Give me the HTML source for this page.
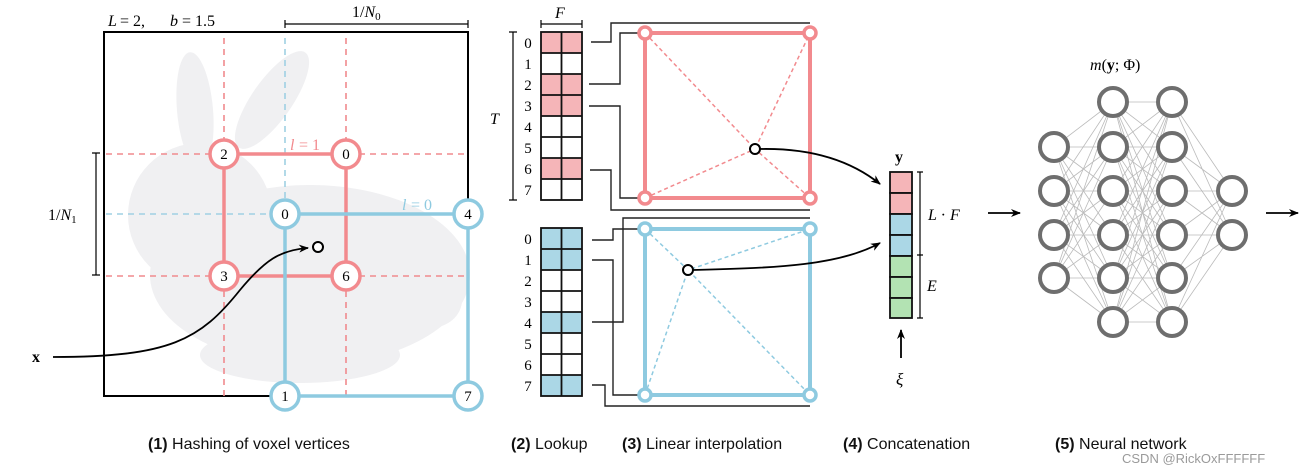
<!DOCTYPE html>
<html><head><meta charset="utf-8"><style>
html,body{margin:0;padding:0;background:#fff;}
svg{display:block;}
text{font-family:"Liberation Serif",serif;}
.cap{font-family:"Liberation Sans",sans-serif;font-size:16px;fill:#111;}
</style></head><body>
<svg width="1311" height="475" viewBox="0 0 1311 475" xmlns="http://www.w3.org/2000/svg">
<defs>
<marker id="ah" markerWidth="10" markerHeight="8" refX="9" refY="4" orient="auto" markerUnits="userSpaceOnUse"><path d="M0,0 L10,4 L0,8 L3,4 Z" fill="#000"/></marker>
</defs>
<!-- bunny -->
<g fill="#f0f0f2">
<ellipse cx="310" cy="275" rx="160" ry="90"/>
<ellipse cx="200" cy="215" rx="72" ry="72"/>
<ellipse cx="195" cy="110" rx="18" ry="58" transform="rotate(-5 195 110)"/>
<ellipse cx="272" cy="100" rx="20" ry="58" transform="rotate(35 272 100)"/>
<ellipse cx="430" cy="300" rx="32" ry="28"/>
<ellipse cx="300" cy="355" rx="100" ry="28"/>
</g>
<!-- left box -->
<rect x="104" y="32" width="364" height="364" fill="none" stroke="#000" stroke-width="2"/>
<text x="108" y="26" font-size="16" font-style="italic">L</text><text x="120" y="26" font-size="16">= 2,</text>
<text x="170" y="26" font-size="16" font-style="italic">b</text><text x="182" y="26" font-size="16">= 1.5</text>
<path d="M285,20 V28 M285,24 H468 M468,20 V28" stroke="#000" stroke-width="1.2" fill="none"/>
<text x="352" y="17" font-size="16">1/<tspan font-style="italic">N</tspan><tspan font-size="11" dy="3">0</tspan></text>
<path d="M92,153 H100 M96,153 V275 M92,275 H100" stroke="#000" stroke-width="1.2" fill="none"/>
<text x="48" y="220" font-size="16">1/<tspan font-style="italic">N</tspan><tspan font-size="11" dy="3">1</tspan></text>
<g stroke="#f08a8e" stroke-width="1.6" stroke-dasharray="6,5" fill="none">
<path d="M224,38 V396 M346,38 V396 M106,154 H465 M106,276 H465"/>
</g>
<g stroke="#9fd0e3" stroke-width="1.6" stroke-dasharray="6,5" fill="none">
<path d="M285,38 V214 M106,214 H285"/>
</g>
<rect x="224" y="154" width="122" height="122" fill="none" stroke="#f28a8e" stroke-width="3.5"/>
<rect x="285" y="214" width="183" height="182" fill="none" stroke="#8ecae0" stroke-width="3.5"/>
<text x="290" y="150" font-size="16" font-style="italic" fill="#f28a8e">l</text><text x="299" y="150" font-size="16" fill="#f28a8e">= 1</text>
<text x="402" y="210" font-size="16" font-style="italic" fill="#8ecae0">l</text><text x="411" y="210" font-size="16" fill="#8ecae0">= 0</text>
<g font-size="15" text-anchor="middle">
<g stroke="#f28a8e" stroke-width="3.5" fill="#fff">
<circle cx="224" cy="154" r="14"/><circle cx="346" cy="154" r="14"/><circle cx="224" cy="276" r="14"/><circle cx="346" cy="276" r="14"/>
</g>
<g stroke="#8ecae0" stroke-width="3.5" fill="#fff">
<circle cx="285" cy="214" r="14"/><circle cx="468" cy="214" r="14"/><circle cx="285" cy="396" r="14"/><circle cx="468" cy="396" r="14"/>
</g>
<text x="224" y="159">2</text><text x="346" y="159">0</text><text x="224" y="281">3</text><text x="346" y="281">6</text>
<text x="285" y="219">0</text><text x="468" y="219">4</text><text x="285" y="401">1</text><text x="468" y="401">7</text>
</g>
<circle cx="318" cy="247" r="5" fill="#fff" stroke="#000" stroke-width="2"/>
<path d="M53,357 C170,357 200,340 240,290 C265,260 280,250 308,248" fill="none" stroke="#000" stroke-width="1.8" marker-end="url(#ah)"/>
<text x="32" y="362" font-size="16" font-weight="bold">x</text>

<!-- tables -->
<text x="555" y="18" font-size="16" font-style="italic">F</text>
<path d="M541,20 V28 M541,24 H582 M582,20 V28" stroke="#000" stroke-width="1.2" fill="none"/>
<path d="M509,32 H517 M513,32 V200 M509,200 H517" stroke="#000" stroke-width="1.2" fill="none"/>
<text x="490" y="124" font-size="16" font-style="italic">T</text>
<g fill="#f5b5b8"><rect x="541" y="32" width="41" height="21"/><rect x="541" y="74" width="41" height="42"/><rect x="541" y="158" width="41" height="21"/></g>
<g fill="#abd7e6"><rect x="541" y="228" width="41" height="42"/><rect x="541" y="312" width="41" height="21"/><rect x="541" y="375" width="41" height="21"/></g>
<g stroke="#111" stroke-width="1.8" fill="none">
<rect x="541" y="32" width="41" height="168"/>
<path d="M561.5,32 V200 M541,53 H582 M541,74 H582 M541,95 H582 M541,116 H582 M541,137 H582 M541,158 H582 M541,179 H582"/>
<rect x="541" y="228" width="41" height="168"/>
<path d="M561.5,228 V396 M541,249 H582 M541,270 H582 M541,291 H582 M541,312 H582 M541,333 H582 M541,354 H582 M541,375 H582"/>
</g>
<g font-size="15" text-anchor="middle">
<text x="528" y="48">0</text><text x="528" y="69">1</text><text x="528" y="90">2</text><text x="528" y="111">3</text><text x="528" y="132">4</text><text x="528" y="153">5</text><text x="528" y="174">6</text><text x="528" y="195">7</text>
<text x="528" y="244">0</text><text x="528" y="265">1</text><text x="528" y="286">2</text><text x="528" y="307">3</text><text x="528" y="328">4</text><text x="528" y="349">5</text><text x="528" y="370">6</text><text x="528" y="391">7</text>
</g>
<g stroke="#222" stroke-width="1.4" fill="none">
<path d="M591,42 H611 V23 H810"/>
<path d="M589,84 H620 V33 H645"/>
<path d="M589,106 H620 V198 H645"/>
<path d="M590,170 H611 V210 H810"/>
<path d="M592,240 H613 V229 H645"/>
<path d="M592,260 H613 V395 H645"/>
<path d="M592,322 H623 V218 H810"/>
<path d="M592,385 H605 V406 H810"/>
</g>
<g stroke="#f28a8e" stroke-width="1.5" stroke-dasharray="4,3" fill="none"><path d="M645,33 L755,149 L810,33 M645,198 L755,149 L810,198"/></g>
<rect x="645" y="33" width="165" height="165" fill="none" stroke="#f28a8e" stroke-width="4"/>
<g stroke="#f28a8e" stroke-width="3.5" fill="#fff"><circle cx="645" cy="33" r="6"/><circle cx="810" cy="33" r="6"/><circle cx="645" cy="198" r="6"/><circle cx="810" cy="198" r="6"/></g>
<g stroke="#8ecae0" stroke-width="1.5" stroke-dasharray="4,3" fill="none"><path d="M645,229 L688,270 L810,229 M645,395 L688,270 L810,395"/></g>
<rect x="645" y="229" width="165" height="166" fill="none" stroke="#8ecae0" stroke-width="4"/>
<g stroke="#8ecae0" stroke-width="3.5" fill="#fff"><circle cx="645" cy="229" r="6"/><circle cx="810" cy="229" r="6"/><circle cx="645" cy="395" r="6"/><circle cx="810" cy="395" r="6"/></g>
<circle cx="755" cy="149" r="5" fill="#fff" stroke="#000" stroke-width="2"/>
<circle cx="688" cy="270" r="5" fill="#fff" stroke="#000" stroke-width="2"/>
<path d="M760,149 C810,148 850,160 880,184" fill="none" stroke="#000" stroke-width="1.8" marker-end="url(#ah)"/>
<path d="M693,270 C780,268 840,265 880,243" fill="none" stroke="#000" stroke-width="1.8" marker-end="url(#ah)"/>
<text x="895" y="162" font-size="16" font-weight="bold">y</text>
<g stroke="#111" stroke-width="1.8">
<rect x="890" y="172" width="22" height="21" fill="#f5b5b8"/><rect x="890" y="193" width="22" height="21" fill="#f5b5b8"/>
<rect x="890" y="214" width="22" height="21" fill="#abd7e6"/><rect x="890" y="235" width="22" height="21" fill="#abd7e6"/>
<rect x="890" y="256" width="22" height="21" fill="#b3e3b3"/><rect x="890" y="277" width="22" height="21" fill="#b3e3b3"/><rect x="890" y="298" width="22" height="20" fill="#b3e3b3"/>
</g>
<path d="M917,172 H923 M920,172 V318 M917,255 H923 M917,318 H923" stroke="#000" stroke-width="1.2" fill="none"/>
<text x="928" y="220" font-size="16" font-style="italic">L <tspan font-style="normal">·</tspan> F</text>
<text x="927" y="291" font-size="16" font-style="italic">E</text>
<path d="M901,358 V330" stroke="#000" stroke-width="1.8" marker-end="url(#ah)"/>
<text x="896" y="385" font-size="17" font-style="italic">ξ</text>
<path d="M988,213 H1020" stroke="#000" stroke-width="1.8" marker-end="url(#ah)"/>
<path d="M1266,213 H1298" stroke="#000" stroke-width="1.8" marker-end="url(#ah)"/>
<text x="1090" y="70" font-size="16"><tspan font-style="italic">m</tspan>(<tspan font-weight="bold">y</tspan>; Φ)</text>
<g stroke="#bbb" stroke-width="0.8" fill="none">
<path d="M1054,147 L1113,102 M1054,147 L1113,147 M1054,147 L1113,191 M1054,147 L1113,235 M1054,147 L1113,278 M1054,147 L1113,322
M1054,191 L1113,102 M1054,191 L1113,147 M1054,191 L1113,191 M1054,191 L1113,235 M1054,191 L1113,278 M1054,191 L1113,322
M1054,235 L1113,102 M1054,235 L1113,147 M1054,235 L1113,191 M1054,235 L1113,235 M1054,235 L1113,278 M1054,235 L1113,322
M1054,278 L1113,102 M1054,278 L1113,147 M1054,278 L1113,191 M1054,278 L1113,235 M1054,278 L1113,278 M1054,278 L1113,322"/>
<path d="M1113,102 L1172,102 M1113,102 L1172,147 M1113,102 L1172,191 M1113,102 L1172,235 M1113,102 L1172,278 M1113,102 L1172,322
M1113,147 L1172,102 M1113,147 L1172,147 M1113,147 L1172,191 M1113,147 L1172,235 M1113,147 L1172,278 M1113,147 L1172,322
M1113,191 L1172,102 M1113,191 L1172,147 M1113,191 L1172,191 M1113,191 L1172,235 M1113,191 L1172,278 M1113,191 L1172,322
M1113,235 L1172,102 M1113,235 L1172,147 M1113,235 L1172,191 M1113,235 L1172,235 M1113,235 L1172,278 M1113,235 L1172,322
M1113,278 L1172,102 M1113,278 L1172,147 M1113,278 L1172,191 M1113,278 L1172,235 M1113,278 L1172,278 M1113,278 L1172,322
M1113,322 L1172,102 M1113,322 L1172,147 M1113,322 L1172,191 M1113,322 L1172,235 M1113,322 L1172,278 M1113,322 L1172,322"/>
<path d="M1172,102 L1232,191 M1172,102 L1232,235 M1172,147 L1232,191 M1172,147 L1232,235 M1172,191 L1232,191 M1172,191 L1232,235 M1172,235 L1232,191 M1172,235 L1232,235 M1172,278 L1232,191 M1172,278 L1232,235 M1172,322 L1232,191 M1172,322 L1232,235"/>
</g>
<g stroke="#6e6e6e" stroke-width="4" fill="#fff">
<circle cx="1054" cy="147" r="14"/><circle cx="1054" cy="191" r="14"/><circle cx="1054" cy="235" r="14"/><circle cx="1054" cy="278" r="14"/>
<circle cx="1113" cy="102" r="14"/><circle cx="1113" cy="147" r="14"/><circle cx="1113" cy="191" r="14"/><circle cx="1113" cy="235" r="14"/><circle cx="1113" cy="278" r="14"/><circle cx="1113" cy="322" r="14"/>
<circle cx="1172" cy="102" r="14"/><circle cx="1172" cy="147" r="14"/><circle cx="1172" cy="191" r="14"/><circle cx="1172" cy="235" r="14"/><circle cx="1172" cy="278" r="14"/><circle cx="1172" cy="322" r="14"/>
<circle cx="1232" cy="191" r="14"/><circle cx="1232" cy="235" r="14"/>
</g>
<text class="cap" x="148" y="449"><tspan font-weight="bold">(1)</tspan> Hashing of voxel vertices</text>
<text class="cap" x="511" y="449"><tspan font-weight="bold">(2)</tspan> Lookup</text>
<text class="cap" x="622" y="449"><tspan font-weight="bold">(3)</tspan> Linear interpolation</text>
<text class="cap" x="843" y="449"><tspan font-weight="bold">(4)</tspan> Concatenation</text>
<text class="cap" x="1055" y="449"><tspan font-weight="bold">(5)</tspan> Neural network</text>
<text x="1122" y="463" font-family="Liberation Sans,sans-serif" style="font-family:'Liberation Sans',sans-serif" font-size="13" fill="#9a9a9a">CSDN @RickOxFFFFFF</text>
</svg>
</body></html>
